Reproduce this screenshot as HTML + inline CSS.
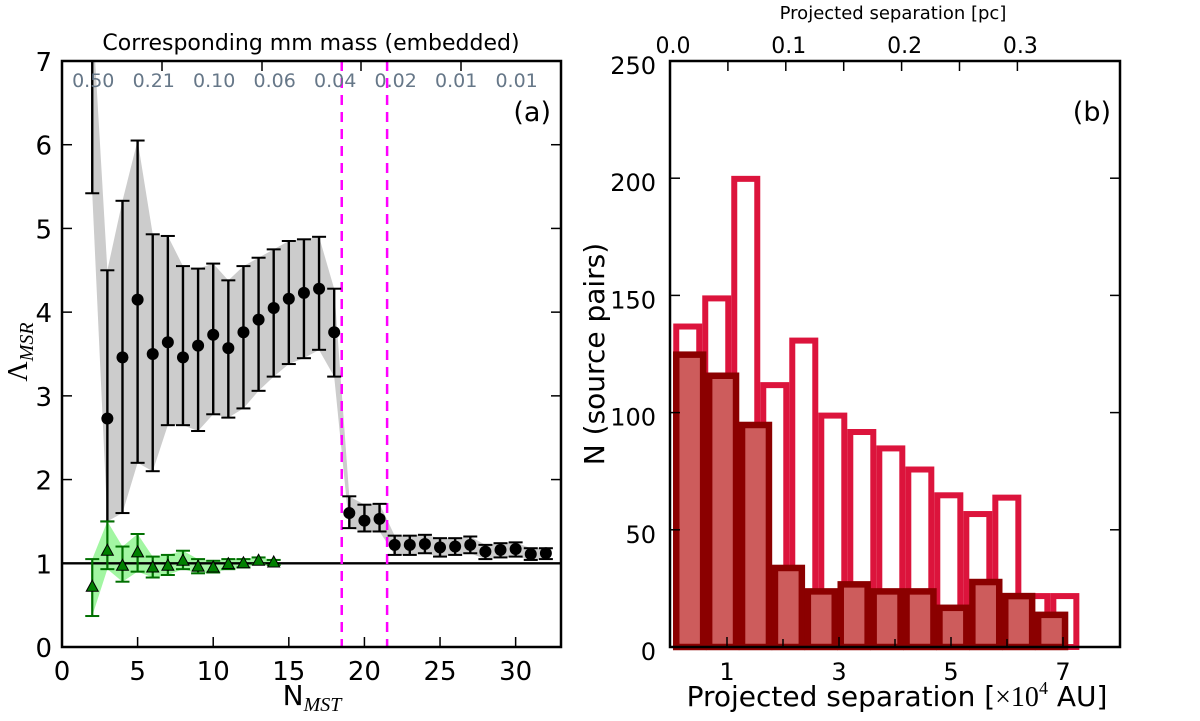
<!DOCTYPE html>
<html><head><meta charset="utf-8"><style>
body{margin:0;background:#fff;}
svg{display:block;font-family:"DejaVu Sans","Liberation Sans",sans-serif;}
</style></head><body>
<svg id="fig" width="1200" height="721" viewBox="0 0 1200 721" xmlns="http://www.w3.org/2000/svg">
<g id="pa"></g>
<g id="pb"></g>
</svg>
<script>
// Panel (a) data
const nBlack = [2,3,4,5,6,7,8,9,10,11,12,13,14,15,16,17,18,19,20,21,22,23,24,25,26,27,28,29,30,31,32];
const vBlack = [7.6,2.73,3.46,4.15,3.5,3.64,3.46,3.6,3.73,3.57,3.76,3.91,4.05,4.16,4.23,4.28,3.76,1.6,1.51,1.53,1.22,1.22,1.23,1.19,1.2,1.22,1.14,1.16,1.17,1.11,1.12];
const loBlack = [5.42,1.5,1.6,2.2,2.1,2.65,2.65,2.58,2.78,2.74,2.85,3.06,3.23,3.38,3.45,3.55,3.23,1.42,1.38,1.38,1.1,1.1,1.12,1.08,1.1,1.12,1.05,1.07,1.08,1.04,1.05];
const hiBlack = [7.6,4.5,5.33,6.05,4.93,4.91,4.55,4.52,4.58,4.38,4.55,4.65,4.75,4.85,4.87,4.9,4.28,1.8,1.7,1.71,1.33,1.33,1.34,1.3,1.3,1.32,1.22,1.24,1.25,1.18,1.18];
const nGreen = [2,3,4,5,6,7,8,9,10,11,12,13,14];
const vGreen = [0.72,1.15,0.97,1.13,0.95,0.97,1.03,0.96,0.95,0.99,1.0,1.03,1.01];
const loGreen = [0.37,0.93,0.78,0.9,0.83,0.86,0.93,0.88,0.89,0.93,0.95,0.99,0.98];
const hiGreen = [1.05,1.5,1.2,1.35,1.08,1.1,1.15,1.05,1.03,1.05,1.05,1.07,1.04];
const xTicksA = [0,5,10,15,20,25,30];
const yTicksA = [0,1,2,3,4,5,6,7];
const massLabels = ["0.50","0.21","0.10","0.06","0.04","0.02","0.01","0.01"];
const massLabelN = [2,6,10,14,18,22,26,30];
const vlines = [18.5,21.5];
// Panel (b) data
const openCounts = [138,150,201,113,132,100,93,86,77,66,58,65,23,23];
const filledCounts = [126,117,96,35,25,28,25,25,18,29,23,15];
const binStart = 0.04;
const openWidth = 0.518;
const filledWidth = 0.5875;
const xTicksB = [1,3,5,7];
const xMinorB = [2,4,6];
const yTicksB = [0,50,100,150,200,250];
const pcTicks = ["0.0","0.1","0.2","0.3"];

const NS="http://www.w3.org/2000/svg";
function mk(parent,tag,attrs,text){const e=document.createElementNS(NS,tag);for(const k in attrs)e.setAttribute(k,attrs[k]);if(text!==undefined)e.textContent=text;parent.appendChild(e);return e;}

// ---------- Panel A ----------
const pa=document.getElementById('pa');
const AL=62,AR=561,AT=61,AB=647;
const ax=v=>AL+(v/33)*(AR-AL);
const ay=v=>AB-(v/7)*(AB-AT);
mk(pa,'defs',{}).innerHTML='<clipPath id="clipA"><rect x="62" y="61" width="499" height="586"/></clipPath>';
const plotA=mk(pa,'g',{'clip-path':'url(#clipA)'});


let pts=nBlack.map((n,i)=>ax(n)+','+ay(hiBlack[i])).concat(nBlack.map((n,i)=>ax(n)+','+ay(loBlack[i])).reverse());
const band=mk(plotA,'polygon',{points:pts.join(' '),fill:'#cccccc'});


pts=nGreen.map((n,i)=>ax(n)+','+ay(hiGreen[i])).concat(nGreen.map((n,i)=>ax(n)+','+ay(loGreen[i])).reverse());
const gband=mk(plotA,'polygon',{points:pts.join(' '),fill:'#98f598',opacity:'0.9'});


const h1=mk(plotA,'line',{x1:AL,x2:AR,y1:ay(1),y2:ay(1),stroke:'#000','stroke-width':2.4});


vlines.forEach(v=>{const l=mk(plotA,'line',{x1:ax(v),x2:ax(v),y1:AT,y2:AB,stroke:'#ff00ff','stroke-width':2.5,'stroke-dasharray':'10,7'});

});
nBlack.forEach((n,i)=>{const g=mk(plotA,'g',{});


const x=ax(n);mk(g,'line',{x1:x,x2:x,y1:ay(loBlack[i]),y2:ay(hiBlack[i]),stroke:'#000','stroke-width':2.4});
mk(g,'line',{x1:x-7,x2:x+7,y1:ay(loBlack[i]),y2:ay(loBlack[i]),stroke:'#000','stroke-width':2});
mk(g,'line',{x1:x-7,x2:x+7,y1:ay(hiBlack[i]),y2:ay(hiBlack[i]),stroke:'#000','stroke-width':2});
mk(g,'circle',{cx:x,cy:ay(vBlack[i]),r:6,fill:'#000'});});
nGreen.forEach((n,i)=>{const g=mk(plotA,'g',{});


const x=ax(n);mk(g,'line',{x1:x,x2:x,y1:ay(loGreen[i]),y2:ay(hiGreen[i]),stroke:'#007000','stroke-width':2.2});
mk(g,'line',{x1:x-7,x2:x+7,y1:ay(loGreen[i]),y2:ay(loGreen[i]),stroke:'#007000','stroke-width':2});
mk(g,'line',{x1:x-7,x2:x+7,y1:ay(hiGreen[i]),y2:ay(hiGreen[i]),stroke:'#007000','stroke-width':2});
const y=ay(vGreen[i]);mk(g,'polygon',{points:`${x},${y-6.5} ${x-6},${y+4.5} ${x+6},${y+4.5}`,fill:'#008000',stroke:'#000','stroke-width':1});});
const fa=mk(pa,'rect',{x:AL,y:AT,width:AR-AL,height:AB-AT,fill:'none',stroke:'#000','stroke-width':2.5});


xTicksA.forEach(t=>{const x=ax(t);mk(pa,'line',{x1:x,x2:x,y1:AB,y2:AB-10,stroke:'#000','stroke-width':1.5});
const l=mk(pa,'text',{x:x,y:AB+33,'font-size':26,'text-anchor':'middle'},String(t));

});
yTicksA.forEach(t=>{const y=ay(t);mk(pa,'line',{x1:AL,x2:AL+10,y1:y,y2:y,stroke:'#000','stroke-width':1.5});mk(pa,'line',{x1:AR,x2:AR-10,y1:y,y2:y,stroke:'#000','stroke-width':1.5});
const l=mk(pa,'text',{x:AL-10,y:y+10,'font-size':26,'text-anchor':'end'},String(t));

});
[162,262,361,461].forEach(x=>mk(pa,'line',{x1:x,x2:x,y1:AT,y2:AT+10,stroke:'#000','stroke-width':1.5}));
massLabels.forEach((s,i)=>{const l=mk(pa,'text',{x:ax(massLabelN[i])+1,y:87,'font-size':19,'text-anchor':'middle',fill:'#667788'},s);

});
let t=mk(pa,'text',{x:311,y:50,'font-size':22,'text-anchor':'middle'},'Corresponding mm mass (embedded)');


t=mk(pa,'text',{x:551,y:121,'font-size':27,'text-anchor':'end'},'(a)');


t=mk(pa,'text',{x:312,y:705,'font-size':28,'text-anchor':'middle'});
t.innerHTML='N<tspan font-family="Liberation Serif,serif" font-style="italic" font-size="20" dy="6">MST</tspan>';


t=mk(pa,'text',{transform:'translate(27,352) rotate(-90)','font-size':28,'text-anchor':'middle','font-family':'Liberation Serif,serif'});
t.innerHTML='Λ<tspan font-style="italic" font-size="20" dy="6">MSR</tspan>';



// ---------- Panel B ----------
const pb=document.getElementById('pb');
const BL=670,BR=1120,BT=61,BB=647;
const bx=v=>671+v*56;
const by=v=>BB-(v/250)*(BB-BT);
openCounts.forEach((c,i)=>{const x0=bx(binStart+i*openWidth),x1=bx(binStart+(i+1)*openWidth);
const r=mk(pb,'rect',{x:x0+3,y:by(c)+3,width:x1-x0-6,height:BB-by(c)-3,fill:'none',stroke:'#dc143c','stroke-width':6});

});
filledCounts.forEach((c,i)=>{const x0=bx(binStart+i*filledWidth),x1=bx(binStart+(i+1)*filledWidth);
const r=mk(pb,'rect',{x:x0+3,y:by(c)+3,width:x1-x0-6,height:BB-by(c)-3,fill:'#cd5c5c',stroke:'#8b0000','stroke-width':6.5});

});
const fb=mk(pb,'rect',{x:BL,y:BT,width:BR-BL,height:BB-BT,fill:'none',stroke:'#000','stroke-width':2.5});


xTicksB.forEach(v=>{const x=bx(v);mk(pb,'line',{x1:x,x2:x,y1:BB,y2:BB-10,stroke:'#000','stroke-width':1.5});
const l=mk(pb,'text',{x:x,y:BB+33,'font-size':24,'text-anchor':'middle'},String(v));

});
xMinorB.forEach(v=>{const x=bx(v);mk(pb,'line',{x1:x,x2:x,y1:BB,y2:BB-8,stroke:'#000','stroke-width':1.5});});
yTicksB.forEach(v=>{const y=by(v);mk(pb,'line',{x1:BL,x2:BL+10,y1:y,y2:y,stroke:'#000','stroke-width':1.5});mk(pb,'line',{x1:BR,x2:BR-10,y1:y,y2:y,stroke:'#000','stroke-width':1.5});
const l=mk(pb,'text',{x:BL-14,y:y+13,'font-size':24,'text-anchor':'end'},String(v));

});
for(let i=0;i<7;i++){const x=670+i*57.9;mk(pb,'line',{x1:x,x2:x,y1:BT,y2:BT+10,stroke:'#000','stroke-width':1.5});}
pcTicks.forEach((s,i)=>{const l=mk(pb,'text',{x:673+i*115.8,y:53,'font-size':22,'text-anchor':'middle'},s);

});
t=mk(pb,'text',{x:893,y:19,'font-size':18,'text-anchor':'middle'},'Projected separation [pc]');


t=mk(pb,'text',{x:1111,y:121,'font-size':27,'text-anchor':'end'},'(b)');


t=mk(pb,'text',{x:897,y:706,'font-size':28,'text-anchor':'middle'});
t.innerHTML='Projected separation [<tspan font-family="Liberation Serif,serif">×10</tspan><tspan font-family="Liberation Serif,serif" font-size="18" dy="-12">4</tspan><tspan dy="12"> AU]</tspan>';


t=mk(pb,'text',{transform:'translate(604,354) rotate(-90)','font-size':28,'text-anchor':'middle'},'N (source pairs)');


</script>
</body></html>
